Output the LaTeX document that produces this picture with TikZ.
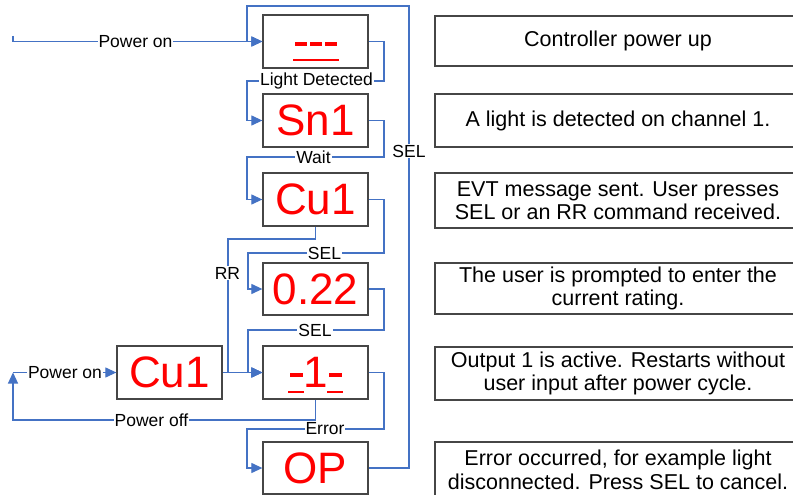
\documentclass[tikz,border=0pt]{standalone}
\usepackage{fontspec}
\setmainfont{Liberation Sans}
\usetikzlibrary{arrows.meta}
\definecolor{connc}{RGB}{68,114,196}
\definecolor{boxc}{RGB}{70,70,70}
\begin{document}
\begin{tikzpicture}[x=1pt,y=-1pt,
  disp/.style={draw=boxc,line width=1.3pt,minimum width=105pt,minimum height=53pt,inner sep=0pt,text=red,font=\fontsize{44}{48}\selectfont},
  desc/.style={draw=boxc,line width=1.3pt,minimum width=366pt,inner sep=0pt,align=center,font=\fontsize{21.5}{23.5}\selectfont},
  lbl/.style={fill=white,inner sep=1pt,font=\fontsize{17.5}{19}\selectfont},
  wire/.style={draw=connc,line width=1.2pt},
  arr/.style={wire,-{Triangle[length=11pt,width=10pt]}},
  seg/.style={draw=red,line width=#1},
  seg/.default=2pt]
\clip (0,0) rectangle (793,495);
\fill[white] (0,0) rectangle (793,495);
% display boxes
\node[disp] (d1) at (315.5,41.5) {};
\node[disp] (d2) at (315.5,120.5) {Sn1};
\node[disp] (d3) at (315.5,199.5) {Cu1};
\node[disp,minimum height=52pt] (d4) at (315.5,289) {0.22};
\node[disp] (d5) at (315.5,372.5) {1};
\node[disp,minimum height=52pt] (d6) at (315.5,468) {OP};
\node[disp] (dL) at (169.5,372.5) {Cu1};
% description boxes
\node[desc,minimum height=50pt] (r1) at (618,41) {Controller power up};
\node[desc,minimum height=53pt] (r2) at (618,120.5) {A light is detected on channel 1.};
\node[desc,minimum height=55pt] (r3) at (618,200.5) {EVT message sent. User presses\\SEL or an RR command received.};
\node[desc,minimum height=51pt] (r4) at (618,288.5) {The user is prompted to enter the\\current rating.};
\node[desc,minimum height=53pt] (r5) at (618,373.5) {Output 1 is active. Restarts without\\user input after power cycle.};
\node[desc,minimum height=56pt] (r6) at (618,470) {Error occurred, for example light\\disconnected. Press SEL to cancel.};
% dashes in displays
\draw[seg=4pt] (295,44) -- (306.7,44);
\draw[seg=4pt] (310,44) -- (321.7,44);
\draw[seg=4pt] (325,44) -- (336.7,44);
\draw[seg] (293,60) -- (339,60);
\draw[seg=3.5pt] (290,375) -- (303,375);
\draw[seg] (288,392) -- (304,392);
\draw[seg=3.5pt] (329,375) -- (342,375);
\draw[seg] (327,392) -- (343,392);
% coordinates
\coordinate (pstart) at (13,36);
\coordinate (pwr) at (13,372.5);
% connectors
\draw[arr] (pstart) |- (d1.west);
\draw[arr] (d6.east) -| (409,6) -| (247,41.5) -- (d1.west);
\draw[arr] (d1.east) -| (384,81) -| (247,120.5) -- (d2.west);
\draw[arr] (d2.east) -| (384,157) -| (247,199.5) -- (d3.west);
\draw[arr] (d3.east) -| (384,253) -| (248,289) -- (d4.west);
\draw[arr] (d4.east) -| (384,330) -| (248,372.5) -- (d5.west);
\draw[arr] (d3.south) |- (228,239) |- (d5.west);
\draw[arr] (dL.east) -- (d5.west);
\draw[arr] (d5.south) |- (13,420) -- (pwr);
\draw[arr] (pwr) -- (dL.west);
\draw[arr] (d5.east) -| (384,429) -| (247,468) -- (d6.west);
% labels
\node[lbl] (l1) at (135.5,41.5) {Power on};
\node[lbl] (l2) at (409,151) {SEL};
\node[lbl] (l3) at (316.5,81) {Light Detected};
\node[lbl] (l4) at (313.5,157) {Wait};
\node[lbl] (l5) at (324.5,253) {SEL};
\node[lbl] (l6) at (315,330) {SEL};
\node[lbl] (l7) at (227.5,273) {RR};
\node[lbl] (l8) at (65,372.5) {Power on};
\node[lbl] (l9) at (151.5,420) {Power off};
\node[lbl] (l10) at (325,429) {Error};
\end{tikzpicture}
\end{document}
